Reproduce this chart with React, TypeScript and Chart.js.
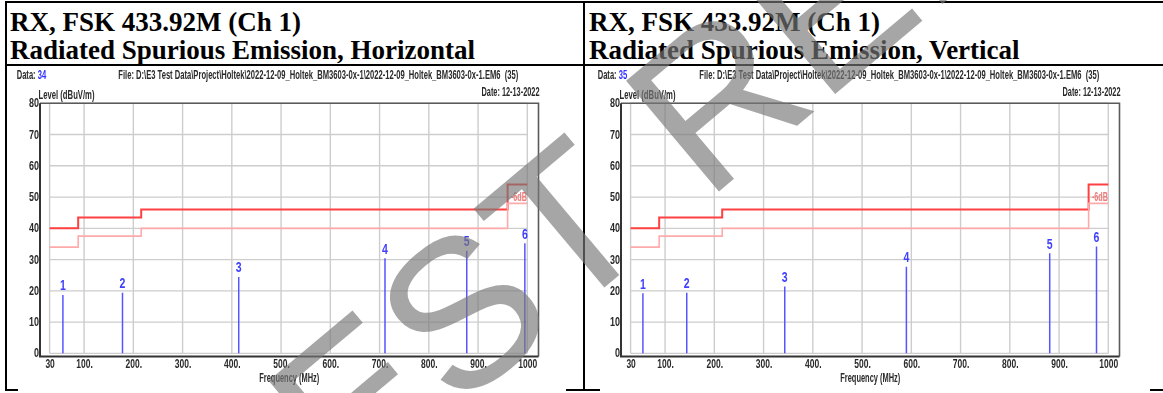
import React, { useEffect, useRef } from 'react';
import { Chart, registerables } from 'chart.js';
Chart.register(...registerables);

// ---------- data ----------
const xTicks = [30, 100, 200, 300, 400, 500, 600, 700, 800, 900, 1000];
const xTickLabels = ['30', '100.', '200.', '300.', '400.', '500.', '600.', '700.', '800.', '900.', '1000'];
const yTicks = [0, 10, 20, 30, 40, 50, 60, 70, 80];
const yTickLabels = ['0', '10', '20', '30', '40', '50', '60', '70', '80'];

const limitFreq = [30, 88, 216, 960, 1000];
const limitLevel = [40, 43.5, 46, 54, 54];
const limit6Level = [34, 37.5, 40, 48, 48];

const hPeakFreq = [57, 178, 414, 711, 877, 995];
const hPeakLevel = [18.7, 19.4, 24.4, 30.4, 32.8, 35.2];
const vPeakFreq = [55, 144, 343, 590, 881, 976];
const vPeakLevel = [19.2, 19.4, 21.4, 27.7, 32.0, 34.2];
const peakLabels = ['1', '2', '3', '4', '5', '6'];

const titleLine1 = 'RX, FSK 433.92M (Ch 1)';
const titleH = 'Radiated Spurious Emission, Horizontal';
const titleV = 'Radiated Spurious Emission, Vertical';
const fileText = 'File: D:\\E3 Test Data\\Project\\Holtek\\2022-12-09_Holtek_BM3603-0x-1\\2022-12-09_Holtek_BM3603-0x-1.EM6  (35)';
const dateText = 'Date: 12-13-2022';
const yTitle = 'Level (dBuV/m)';
const xTitle = 'Frequency (MHz)';
const limitNote = '-6dB';
const watermark = 'TEST REPORT';

const FONT = '"Liberation Sans", Arial, sans-serif';

function drawText(ctx: CanvasRenderingContext2D, s: string, x: number, y: number, o: any = {}) {
  const { size = 12.5, color = '#2a2a2a', align = 'left', sx = 0.8, width, weight = 'bold' } = o;
  ctx.save();
  ctx.font = `${weight} ${size}px ${FONT}`;
  const w = ctx.measureText(s).width;
  const scale = width ? width / w : sx;
  const tw = w * scale;
  let x0 = x;
  if (align === 'center') x0 = x - tw / 2;
  else if (align === 'right') x0 = x - tw;
  ctx.translate(x0, y);
  ctx.scale(scale, 1);
  ctx.fillStyle = color;
  ctx.textAlign = 'left';
  ctx.textBaseline = 'middle';
  ctx.fillText(s, 0, 0);
  ctx.restore();
  return tw;
}

function makePlugins(dataNo: string, peakFreq: number[], peakLevel: number[]) {
  const grid = {
    id: 'gridBg',
    beforeDatasetsDraw(chart: any) {
      const { ctx, scales } = chart;
      const x = scales.x, y = scales.y;
      ctx.save();
      ctx.strokeStyle = '#cdcdcd';
      ctx.lineWidth = 1.4;
      ctx.beginPath();
      for (const t of xTicks) {
        const px = x.getPixelForValue(t);
        ctx.moveTo(px, y.getPixelForValue(0));
        ctx.lineTo(px, y.getPixelForValue(80));
      }
      for (const t of yTicks) {
        const py = y.getPixelForValue(t);
        ctx.moveTo(x.getPixelForValue(30), py);
        ctx.lineTo(x.getPixelForValue(1000), py);
      }
      ctx.stroke();
      ctx.restore();
    },
  };
  const overlay = {
    id: 'overlayTexts',
    afterDatasetsDraw(chart: any) {
      const { ctx, scales, chartArea: ca } = chart;
      const x = scales.x, y = scales.y;
      ctx.save();
      // frame
      ctx.strokeStyle = '#5a5a5a';
      ctx.lineWidth = 1.6;
      ctx.beginPath();
      ctx.moveTo(ca.left, ca.top);
      ctx.lineTo(ca.right, ca.top);
      ctx.lineTo(ca.right, ca.bottom);
      ctx.stroke();
      ctx.strokeStyle = '#333';
      ctx.lineWidth = 2;
      ctx.beginPath();
      ctx.moveTo(ca.left, ca.top);
      ctx.lineTo(ca.left, ca.bottom);
      ctx.lineTo(ca.right, ca.bottom);
      ctx.stroke();
      ctx.restore();

      // y tick labels
      yTicks.forEach((t, i) => {
        drawText(ctx, yTickLabels[i], ca.left - 1, y.getPixelForValue(t) + 0.5, { align: 'right', sx: 0.72 });
      });
      // x tick labels
      xTicks.forEach((t, i) => {
        drawText(ctx, xTickLabels[i], x.getPixelForValue(t) + 0.5, ca.bottom + 8.5, { align: 'center', sx: 0.68 });
      });
      drawText(ctx, xTitle, (ca.left + ca.right) / 2, ca.bottom + 22, { align: 'center', width: 60 });
      drawText(ctx, yTitle, ca.left - 1.5, ca.top - 7.3, { width: 56 });
      drawText(ctx, dateText, ca.right + 1, ca.top - 10.3, { align: 'right', width: 58 });
      const w = drawText(ctx, 'Data: ', ca.left - 23.3, ca.top - 27.8, { width: 21 });
      drawText(ctx, dataNo, ca.left - 23.3 + w, ca.top - 27.8, { width: 8.5, color: '#3030ff' });
      drawText(ctx, fileText, ca.left + 78.3, ca.top - 27.8, { width: 400 });

      // limit note
      drawText(ctx, limitNote, x.getPixelForValue(983), y.getPixelForValue(49.9), { align: 'center', size: 13, width: 16, color: '#f07a7a' });

      // peak labels
      peakFreq.forEach((f, i) => {
        drawText(ctx, peakLabels[i], x.getPixelForValue(f), y.getPixelForValue(peakLevel[i]) - 8.5, { align: 'center', size: 14, sx: 0.75, color: '#4040ff' });
      });
    },
  };
  return [grid, overlay];
}

function Panel({ left, dataNo, peakFreq, peakLevel }: any) {
  const ref = useRef<HTMLCanvasElement | null>(null);
  useEffect(() => {
    const peakData: any[] = [];
    peakFreq.forEach((f: number, i: number) => {
      peakData.push({ x: f, y: 0 }, { x: f, y: peakLevel[i] }, { x: f, y: null });
    });
    const chart = new Chart(ref.current as HTMLCanvasElement, {
      type: 'line',
      data: {
        datasets: [
          {
            data: limitFreq.map((f, i) => ({ x: f, y: limit6Level[i] })),
            stepped: true,
            borderColor: '#ffaaaa',
            borderWidth: 1.6,
            pointRadius: 0,
          },
          {
            data: limitFreq.map((f, i) => ({ x: f, y: limitLevel[i] })),
            stepped: true,
            borderColor: '#ff4040',
            borderWidth: 2,
            pointRadius: 0,
          },
          {
            data: peakData,
            borderColor: '#5555ff',
            borderWidth: 1.5,
            pointRadius: 0,
            spanGaps: false,
          },
        ],
      } as any,
      options: {
        responsive: false,
        animation: false,
        devicePixelRatio: 1,
        layout: { padding: { left: 33, right: 44.5, top: 37.3, bottom: 32.5 } },
        plugins: { legend: { display: false }, tooltip: { enabled: false } },
        scales: {
          x: { type: 'linear', min: 10.5, max: 1022.7, display: false },
          y: { type: 'linear', min: -1, max: 80, display: false },
        },
      } as any,
      plugins: makePlugins(dataNo, peakFreq, peakLevel) as any,
    });
    return () => chart.destroy();
  }, []);
  return (
    <canvas
      ref={ref}
      width={576}
      height={323}
      style={{ position: 'absolute', left, top: 66, width: 576, height: 323 }}
    />
  );
}

function Watermark() {
  const ref = useRef<HTMLCanvasElement | null>(null);
  useEffect(() => {
    const c = ref.current as HTMLCanvasElement;
    const ctx = c.getContext('2d') as CanvasRenderingContext2D;
    ctx.clearRect(0, 0, c.width, c.height);
    ctx.save();
    ctx.translate(250, 585);
    ctx.rotate((-40 * Math.PI) / 180);
    ctx.font = `210px ${FONT}`;
    ctx.fillStyle = 'rgba(120,120,120,0.66)';
    ctx.textBaseline = 'alphabetic';
    ctx.fillText(watermark, 0, 0);
    ctx.restore();
  }, []);
  return (
    <canvas
      ref={ref}
      width={1163}
      height={393}
      style={{ position: 'absolute', left: 0, top: 0, width: 1163, height: 393, pointerEvents: 'none' }}
    />
  );
}

const line = (l: number, t: number, w: number, h: number) => (
  <div style={{ position: 'absolute', left: l, top: t, width: w, height: h, background: '#000' }} />
);

const titleStyle = (left: number): React.CSSProperties => ({
  position: 'absolute',
  left,
  top: 8,
  font: 'bold 27px "Liberation Serif", "Times New Roman", serif',
  lineHeight: '28px',
  color: '#000',
  whiteSpace: 'nowrap',
});

export default function App() {
  return (
    <div style={{ position: 'fixed', left: 0, top: 0, width: 1163, height: 393, background: '#fff', overflow: 'hidden' }}>
      {line(5, 1, 1158, 2)}
      {line(5, 1, 2, 390)}
      {line(583, 1, 2, 390)}
      {line(5, 64, 1158, 2)}
      {line(5, 389, 13, 2)}
      {line(566, 389, 34, 2)}
      {line(1150, 389, 13, 2)}
      <div style={titleStyle(10)}>
        <div>{titleLine1}</div>
        <div>{titleH}</div>
      </div>
      <div style={titleStyle(589)}>
        <div>{titleLine1}</div>
        <div>{titleV}</div>
      </div>
      <Panel left={7} dataNo="34" peakFreq={hPeakFreq} peakLevel={hPeakLevel} />
      <Panel left={588} dataNo="35" peakFreq={vPeakFreq} peakLevel={vPeakLevel} />
      <Watermark />
    </div>
  );
}
